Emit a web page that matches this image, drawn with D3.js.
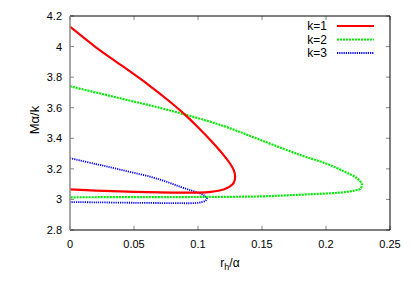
<!DOCTYPE html>
<html>
<head>
<meta charset="utf-8">
<script src="https://cdn.jsdelivr.net/npm/d3@7"></script>
<style>
  body { margin: 0; background: #fff; }
  text { font-family: "Liberation Sans", Arial, sans-serif; }
</style>
</head>
<body>
<div id="chart"></div>
<script>
// Values, each curve in drawing order
const k1X = [0, 0.02, 0.04, 0.06, 0.08, 0.09, 0.10, 0.11, 0.12, 0.125, 0.128, 0.129, 0.128, 0.125, 0.12, 0.11, 0.10, 0.08, 0.05, 0.02, 0];
const k1Y = [4.13, 3.997, 3.878, 3.758, 3.626, 3.553, 3.472, 3.385, 3.29, 3.235, 3.19, 3.15, 3.11, 3.085, 3.065, 3.05, 3.045, 3.045, 3.05, 3.058, 3.066];

const k2X = [0, 0.04, 0.08, 0.12, 0.15, 0.18, 0.2, 0.215, 0.224, 0.228, 0.227, 0.222, 0.21, 0.19, 0.17, 0.15, 0.1, 0.05, 0];
const k2Y = [3.74, 3.66, 3.578, 3.48, 3.385, 3.29, 3.235, 3.18, 3.14, 3.1, 3.07, 3.058, 3.044, 3.035, 3.027, 3.02, 3.016, 3.015, 3.014];

const k3X = [0, 0.02, 0.04, 0.0625, 0.075, 0.086, 0.095, 0.1015, 0.105, 0.107, 0.106, 0.103, 0.097, 0.08, 0.05, 0.02, 0];
const k3Y = [3.27, 3.232, 3.193, 3.149, 3.117, 3.083, 3.058, 3.04, 3.024, 3.007, 2.993, 2.982, 2.976, 2.976, 2.978, 2.981, 2.983];

const seriesNames = ["k=1", "k=2", "k=3"];
const xTicks = [0, 0.05, 0.1, 0.15, 0.2, 0.25];
const xTickLabels = ["0", "0.05", "0.1", "0.15", "0.2", "0.25"];
const yTicks = [2.8, 3, 3.2, 3.4, 3.6, 3.8, 4, 4.2];
const yTickLabels = ["2.8", "3", "3.2", "3.4", "3.6", "3.8", "4", "4.2"];

const width = 411, height = 288;
const margin = {left: 70, right: 21, top: 16, bottom: 58};

const svg = d3.select("#chart").append("svg")
  .attr("width", width)
  .attr("height", height);

const x = d3.scaleLinear().domain([0, 0.25]).range([margin.left, width - margin.right]);
const y = d3.scaleLinear().domain([2.8, 4.2]).range([height - margin.bottom, margin.top]);

// styles for each curve
const styles = [
  {color: "#ff0000", w: 2.2, dash: null},
  {color: "#00ee00", w: 2.2, dash: "2,1"},
  {color: "#0000ff", w: 1.8, dash: "1.2,1"}
];

// ticks (gnuplot style: inward, mirrored, grey)
const tickLen = 4;
const ticksG = svg.append("g").attr("stroke", "#888").attr("stroke-width", 1);
xTicks.forEach(t => {
  ticksG.append("line").attr("x1", x(t)).attr("x2", x(t)).attr("y1", y(2.8)).attr("y2", y(2.8) - tickLen);
  ticksG.append("line").attr("x1", x(t)).attr("x2", x(t)).attr("y1", y(4.2)).attr("y2", y(4.2) + tickLen);
});
yTicks.forEach(t => {
  ticksG.append("line").attr("x1", x(0)).attr("x2", x(0) + tickLen).attr("y1", y(t)).attr("y2", y(t));
  ticksG.append("line").attr("x1", x(0.25)).attr("x2", x(0.25) - tickLen).attr("y1", y(t)).attr("y2", y(t));
});

// tick labels
svg.append("g").selectAll("text")
  .data(xTicks)
  .enter().append("text")
    .attr("x", d => x(d))
    .attr("y", y(2.8) + 18)
    .attr("text-anchor", "middle")
    .style("font-size", "11px")
    .text((d, i) => xTickLabels[i]);

svg.append("g").selectAll("text")
  .data(yTicks)
  .enter().append("text")
    .attr("x", x(0) - 8)
    .attr("y", d => y(d) + 4)
    .attr("text-anchor", "end")
    .style("font-size", "11px")
    .text((d, i) => yTickLabels[i]);

// curves
const line = d3.line()
  .x(d => x(d[0]))
  .y(d => y(d[1]))
  .curve(d3.curveCatmullRom.alpha(0.5));

const allSeries = [
  d3.zip(k1X, k1Y),
  d3.zip(k2X, k2Y),
  d3.zip(k3X, k3Y)
];

svg.append("defs").append("clipPath").attr("id", "clip")
  .append("rect")
    .attr("x", margin.left).attr("y", margin.top)
    .attr("width", width - margin.left - margin.right)
    .attr("height", height - margin.top - margin.bottom);

// draw back to front so red sits on top like the picture
[2, 1, 0].forEach(i => {
  svg.append("path")
    .datum(allSeries[i])
    .attr("clip-path", "url(#clip)")
    .attr("fill", "none")
    .attr("stroke", styles[i].color)
    .attr("stroke-width", styles[i].w)
    .attr("stroke-dasharray", styles[i].dash)
    .attr("d", line);
});

// border
svg.append("line").attr("x1", x(0)).attr("x2", x(0.25)).attr("y1", y(4.2)).attr("y2", y(4.2))
  .attr("stroke", "#000").attr("stroke-width", 1);
svg.append("line").attr("x1", x(0)).attr("x2", x(0.25)).attr("y1", y(2.8)).attr("y2", y(2.8))
  .attr("stroke", "#000").attr("stroke-width", 1);
svg.append("line").attr("x1", x(0.25)).attr("x2", x(0.25)).attr("y1", y(4.2)).attr("y2", y(2.8))
  .attr("stroke", "#000").attr("stroke-width", 1);
svg.append("line").attr("x1", x(0)).attr("x2", x(0)).attr("y1", y(4.2)).attr("y2", y(2.8))
  .attr("stroke", "#888").attr("stroke-width", 1.5);

// legend
const legX = 327, legY = 26, legStep = 13.5;
seriesNames.forEach((name, i) => {
  svg.append("text")
    .attr("x", legX)
    .attr("y", legY + i * legStep + 4)
    .attr("text-anchor", "end")
    .style("font-size", "12px")
    .text(name);
  svg.append("line")
    .attr("x1", legX + 10).attr("x2", legX + 47)
    .attr("y1", legY + i * legStep).attr("y2", legY + i * legStep)
    .attr("stroke", styles[i].color)
    .attr("stroke-width", styles[i].w)
    .attr("stroke-dasharray", styles[i].dash);
});

// axis titles
const xTitle = svg.append("text")
  .attr("x", (x(0) + x(0.25)) / 2)
  .attr("y", 267)
  .attr("text-anchor", "middle")
  .style("font-size", "12px");
xTitle.append("tspan").text("r");
xTitle.append("tspan").attr("dy", 3).style("font-size", "9px").text("h");
xTitle.append("tspan").attr("dy", -3).text("/α");

svg.append("text")
  .attr("transform", "translate(39," + ((y(2.8) + y(4.2)) / 2 - 3) + ") rotate(-90)")
  .attr("text-anchor", "middle")
  .style("font-size", "13px")
  .text("Mα/k");
</script>
</body>
</html>
